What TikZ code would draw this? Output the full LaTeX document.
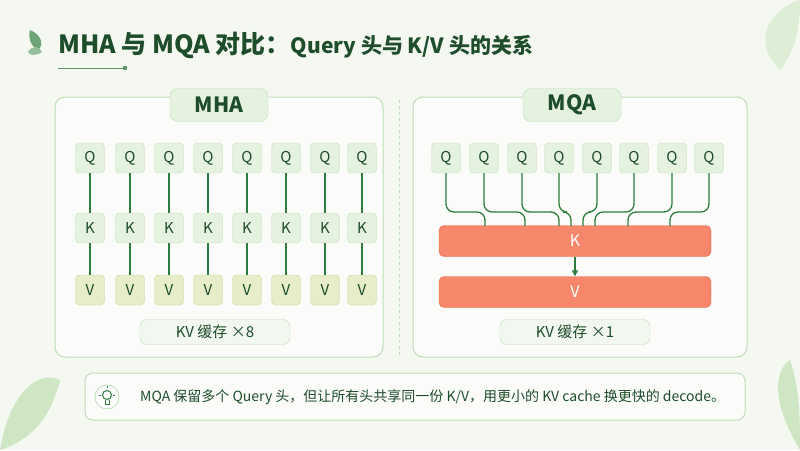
\documentclass[tikz,border=0pt]{standalone}
\usepackage{fontspec}
\setmainfont{Noto Sans CJK SC}
\usetikzlibrary{arrows.meta}
\definecolor{bg}{HTML}{F4F8F0}
\definecolor{dg}{HTML}{1E4D2B}
\definecolor{lg}{HTML}{E6F2E0}
\definecolor{bd}{HTML}{BFDDB8}
\definecolor{ln}{HTML}{2E7D3E}
\definecolor{vy}{HTML}{E6EDC8}
\definecolor{vyb}{HTML}{C9D79A}
\definecolor{orf}{HTML}{F6876A}
\definecolor{orb}{HTML}{E0694C}
\definecolor{leaf}{HTML}{CFE6C4}
\begin{document}
\begin{tikzpicture}[x=1pt,y=-1pt,
  panel/.style={draw=bd,fill=white!60!bg,rounded corners=10pt,line width=1pt},
  tag/.style={draw=bd,fill=lg,rounded corners=8pt,minimum width=98pt,minimum height=33pt,font=\bfseries\fontsize{21}{21}\selectfont,text=dg},
  q/.style={draw=bd,fill=lg,rounded corners=4pt,minimum width=29pt,minimum height=30pt,font=\fontsize{15}{15}\selectfont,text=dg,inner sep=0pt},
  v/.style={q,fill=vy,draw=vyb},
  big/.style={draw=orb,fill=orf,rounded corners=5pt,minimum width=272pt,minimum height=31pt,font=\fontsize{16}{16}\selectfont,text=white},
  kv/.style={draw=bd,fill=white!50!lg,rounded corners=7pt,minimum width=150pt,minimum height=25pt,font=\fontsize{15}{15}\selectfont,text=dg},
  con/.style={draw=ln,line width=1.3pt}]
\useasboundingbox (0,0) rectangle (800,450);
\fill[bg] (0,0) rectangle (800,450);
% leaves decoration
\fill[leaf] (0,450) .. controls (10,390) and (40,370) .. (60,380) .. controls (50,420) and (30,440) .. (0,450);
\fill[leaf] (800,450) .. controls (770,400) and (775,370) .. (790,360) .. controls (800,390) and (800,420) .. (800,450);
\fill[leaf!60!bg] (800,0) .. controls (770,10) and (750,40) .. (780,70) .. controls (795,50) and (800,30) .. (800,0);
% title
\fill[ln!70] (30,30) .. controls (42,35) and (44,45) .. (38,50) .. controls (30,45) and (28,38) .. (30,30);
\fill[ln!50] (28,52) .. controls (32,45) and (40,46) .. (42,52) .. controls (36,56) and (30,56) .. (28,52);
\node[anchor=west,text=dg,inner sep=0pt] (title) at (58,45) {\bfseries\fontsize{25}{25}\selectfont MHA 与 MQA 对比：\fontsize{21}{21}\selectfont Query 头与 K/V 头的关系};
\draw[ln!80,line width=1pt] (58,68) -- (125,68);
\fill[ln!80] (125,68) circle (2.2);
% panels
\draw[panel] (55,97) rectangle (383,357);
\draw[panel] (413,97) rectangle (747,357);
\draw[bd,dashed,line width=0.8pt] (399,100) -- (399,355);
\node[tag] (mha) at (219,105) {MHA};
\node[tag] (mqa) at (572,105) {MQA};
% MHA
\foreach \i/\x in {1/90,2/130,3/169,4/208,5/247,6/286,7/325,8/362}{
  \node[q] (lq\i) at (\x,158) {Q};
  \node[q] (lk\i) at (\x,228) {K};
  \node[v] (lv\i) at (\x,290) {V};
  \draw[con] (lq\i) -- (lk\i);
  \draw[con] (lk\i) -- (lv\i);
}
\node[kv] (kv1) at (215,332) {KV 缓存 ×8};
% MQA
\node[big] (K) at (575,241) {K};
\node[big] (V) at (575,292) {V};
\draw[con,-{Triangle[length=6pt,width=6pt]}] (K) -- (V);
\foreach \i/\x/\e in {1/446/485,2/484/525,3/522/559,4/559/571,5/597/583,6/634/595,7/672/628,8/709/670}{
  \node[q] (rq\i) at (\x,158) {Q};
  \coordinate (e\i) at (\e,226);
  \draw[con,rounded corners=8pt] (rq\i.south) -- (\x,212) -- (\e,212) -- (e\i);
}
\node[kv] (kv2) at (575,332) {KV 缓存 ×1};
% note
\draw[panel,rounded corners=8pt] (85,373) rectangle (745,420);
\draw[bd,fill=white,line width=0.8pt] (107,397) circle (12);
\draw[ln,line width=1pt] (107,395) circle (4.5);
\draw[ln,line width=1pt] (105,400) -- (105,404) -- (109,404) -- (109,400);
\draw[ln,line width=0.8pt] (107,386) -- (107,388) (99,395) -- (101,395) (113,395) -- (115,395);
\node[anchor=west,text=dg,font=\fontsize{14}{14}\selectfont,inner sep=0pt] (note) at (140,397) {MQA 保留多个 Query 头，但让所有头共享同一份 K/V，用更小的 KV cache 换更快的 decode。};
\end{tikzpicture}
\end{document}
